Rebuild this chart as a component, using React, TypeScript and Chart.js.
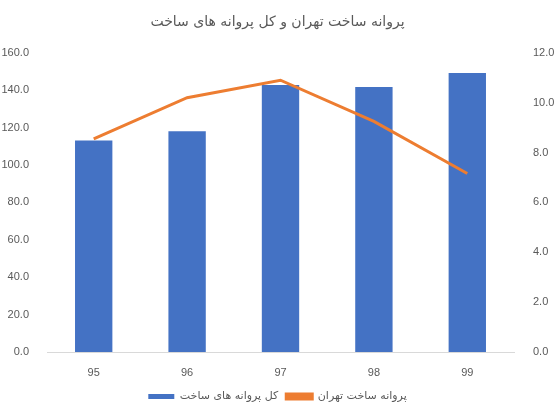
import { useEffect, useRef } from 'react';
import { Chart, registerables } from 'chart.js';

Chart.register(...registerables);

const years = ['95', '96', '97', '98', '99'];
const totalPermits = [113.1, 118.0, 142.8, 141.7, 149.2];
const tehranPermits = [8.55, 10.2, 10.9, 9.25, 7.16];

const titleText = 'پروانه ساخت تهران و کل پروانه های ساخت';
const totalLabel = 'کل پروانه های ساخت';
const tehranLabel = 'پروانه ساخت تهران';

const tickFont = { family: 'Liberation Sans', size: 11 };
const arabicFont = 'DejaVu Sans';

const App = () => {
  const chartRef = useRef<HTMLCanvasElement>(null);
  const chartInstance = useRef<Chart | null>(null);

  useEffect(() => {
    document.body.style.margin = '0';
    if (!chartRef.current) return;
    if (chartInstance.current) {
      chartInstance.current.destroy();
    }

    chartInstance.current = new Chart(chartRef.current, {
      type: 'bar',
      data: {
        labels: years,
        datasets: [
          {
            type: 'bar',
            label: totalLabel,
            data: totalPermits,
            backgroundColor: '#4472C4',
            borderWidth: 0,
            barPercentage: 0.4,
            categoryPercentage: 1,
            yAxisID: 'y',
            order: 2,
          },
          {
            type: 'line',
            label: tehranLabel,
            data: tehranPermits,
            borderColor: '#ED7D31',
            backgroundColor: '#ED7D31',
            borderWidth: 3,
            pointRadius: 0,
            tension: 0,
            yAxisID: 'y1',
            order: 1,
          },
        ],
      },
      options: {
        responsive: false,
        animation: false,
        layout: { padding: 0 },
        plugins: {
          title: {
            display: true,
            text: titleText,
            color: '#595959',
            font: { family: arabicFont, size: 14, weight: 'normal' },
            padding: { top: 14, bottom: 22 },
          },
          legend: {
            position: 'bottom',
            labels: {
              color: '#595959',
              font: { family: arabicFont, size: 11 },
              boxWidth: 26,
              boxHeight: 5,
              padding: 8,
              sort: (a, b) => a.datasetIndex - b.datasetIndex,
            },
          },
          tooltip: { enabled: false },
        },
        scales: {
          x: {
            grid: { display: false },
            border: { display: true, color: '#D9D9D9', width: 1 },
            ticks: { color: '#595959', font: tickFont, padding: 6 },
            afterFit: (s) => {
              s.height = 31;
            },
          },
          y: {
            position: 'left',
            min: 0,
            max: 160,
            grid: { display: false },
            border: { display: false },
            ticks: {
              stepSize: 20,
              color: '#595959',
              font: tickFont,
              padding: 10,
              callback: (v) => Number(v).toFixed(1),
            },
            afterFit: (s) => {
              s.width = 47;
            },
          },
          y1: {
            position: 'right',
            min: 0,
            max: 12,
            grid: { display: false },
            border: { display: false },
            ticks: {
              stepSize: 2,
              color: '#595959',
              font: tickFont,
              padding: 11,
              callback: (v) => Number(v).toFixed(1),
            },
            afterFit: (s) => {
              s.width = 41;
            },
          },
        },
      },
    });

    return () => {
      if (chartInstance.current) {
        chartInstance.current.destroy();
        chartInstance.current = null;
      }
    };
  }, []);

  return (
    <div style={{ width: 555, height: 412, background: '#ffffff' }}>
      <canvas ref={chartRef} width={555} height={412}></canvas>
    </div>
  );
};

export default App;
